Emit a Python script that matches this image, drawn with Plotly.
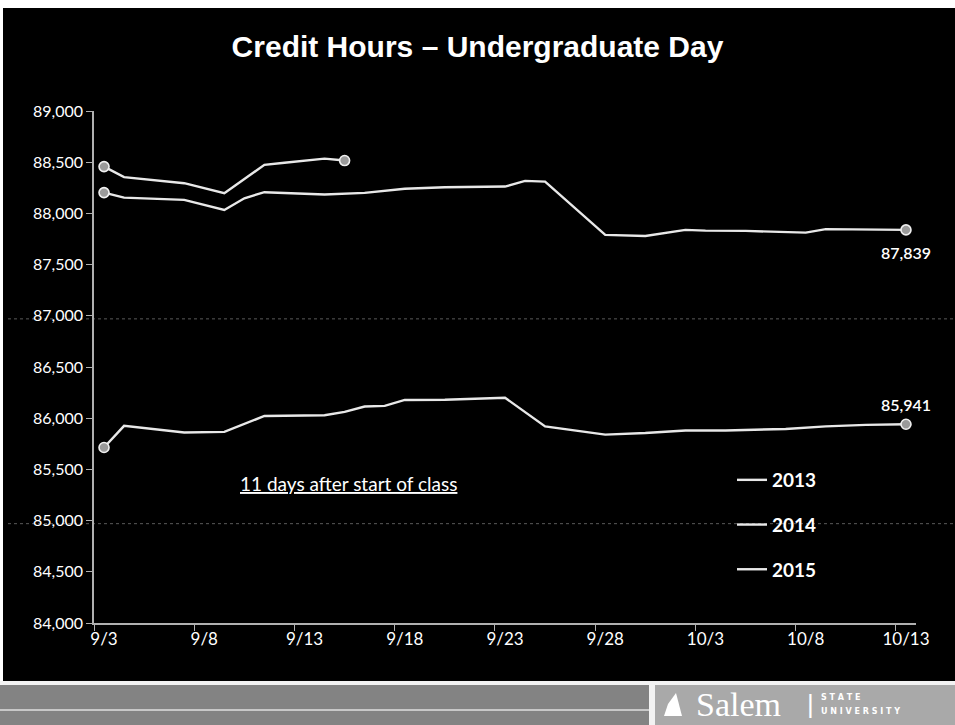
import pandas as pd
import plotly.graph_objects as go

# ---------------- data ----------------
dates_2013 = ["9/3", "9/4", "9/7", "9/9", "9/11", "9/14", "9/15", "9/16", "9/17", "9/18",
              "9/20", "9/23", "9/25", "9/28", "9/30", "10/2", "10/4", "10/7", "10/9", "10/11", "10/13"]
hours_2013 = [85714, 85925, 85860, 85866, 86022, 86029, 86062, 86114, 86120, 86178,
              86180, 86200, 85920, 85840, 85855, 85880, 85880, 85895, 85920, 85935, 85941]

dates_2014 = ["9/3", "9/4", "9/7", "9/9", "9/10", "9/11", "9/14", "9/16", "9/18", "9/20",
              "9/23", "9/24", "9/25", "9/28", "9/30", "10/2", "10/3", "10/5", "10/8", "10/9", "10/13"]
hours_2014 = [88203, 88154, 88132, 88034, 88148, 88207, 88185, 88200, 88240, 88255,
              88262, 88318, 88310, 87790, 87780, 87839, 87832, 87829, 87812, 87846, 87839]

dates_2015 = ["9/3", "9/4", "9/7", "9/9", "9/10", "9/11", "9/12", "9/14", "9/15"]
hours_2015 = [88457, 88354, 88295, 88197, 88335, 88474, 88495, 88535, 88516]

x_tick_labels = ["9/3", "9/8", "9/13", "9/18", "9/23", "9/28", "10/3", "10/8", "10/13"]
y_ticks = [84000, 84500, 85000, 85500, 86000, 86500, 87000, 87500, 88000, 88500, 89000]

series = [("2013", dates_2013, hours_2013),
          ("2014", dates_2014, hours_2014),
          ("2015", dates_2015, hours_2015)]


def to_dt(labels):
    return pd.to_datetime(["2015/" + s for s in labels], format="%Y/%m/%d")


LINE = "#e8e8e8"
fig = go.Figure()
for name, d, v in series:
    fig.add_trace(go.Scatter(
        x=to_dt(d), y=v, name=name, mode="lines", legendgroup=name,
        line=dict(color=LINE, width=2.4),
    ))
for name, d, v in series:
    fig.add_trace(go.Scatter(
        x=to_dt([d[0], d[-1]]), y=[v[0], v[-1]], mode="markers", showlegend=False,
        legendgroup=name,
        marker=dict(size=10, color="#9a9a9a", line=dict(color="#f0f0f0", width=1.6)),
    ))

# end-value labels
fig.add_annotation(x=to_dt([dates_2014[-1]])[0], y=hours_2014[-1], text=f"{hours_2014[-1]:,}",
                   showarrow=False, yshift=-23, xanchor="center", yanchor="middle",
                   font=dict(family="Lato", size=16, color="white", weight=600))
fig.add_annotation(x=to_dt([dates_2013[-1]])[0], y=hours_2013[-1], text=f"{hours_2013[-1]:,}",
                   showarrow=False, yshift=20, xanchor="center", yanchor="middle",
                   font=dict(family="Lato", size=16, color="white", weight=600))

PX_L, PX_R, PX_T, PX_B = 94, 916, 111, 623
W, H = 955, 725


def px(xp):
    return (xp - PX_L) / (PX_R - PX_L)


def py(yp):
    return (PX_B - yp) / (PX_B - PX_T)


fig.add_annotation(xref="paper", yref="paper", x=px(348), y=py(483), xanchor="center", yanchor="middle",
                   text="<u>11 days after start of class</u>", showarrow=False,
                   font=dict(family="Lato", size=19, color="white"))

shapes = []
# white strip at top / left
shapes.append(dict(type="rect", xref="paper", yref="paper", x0=px(0), x1=px(W), y0=py(8), y1=py(-5),
                   fillcolor="white", line=dict(width=0), layer="below"))
shapes.append(dict(type="rect", xref="paper", yref="paper", x0=px(-5), x1=px(3), y0=py(W), y1=py(-5),
                   fillcolor="white", line=dict(width=0), layer="below"))
# faint dotted lines
for val in (87000, 85000):
    shapes.append(dict(type="line", xref="paper", yref="y", x0=px(8), x1=px(W), y0=val - 30, y1=val - 30,
                       line=dict(color="#5a5a5a", width=1, dash="dot"), layer="below"))
# footer
shapes.append(dict(type="rect", xref="paper", yref="paper", x0=px(0), x1=px(W), y0=py(681), y1=py(685),
                   fillcolor="#f2f2f2", line=dict(width=0), layer="below"))
shapes.append(dict(type="rect", xref="paper", yref="paper", x0=px(0), x1=px(649), y0=py(685), y1=py(730),
                   fillcolor="#838383", line=dict(width=0), layer="below"))
shapes.append(dict(type="rect", xref="paper", yref="paper", x0=px(0), x1=px(649), y0=py(709), y1=py(711),
                   fillcolor="#c8c8c8", line=dict(width=0), layer="below"))
shapes.append(dict(type="rect", xref="paper", yref="paper", x0=px(649), x1=px(655), y0=py(685), y1=py(730),
                   fillcolor="#f2f2f2", line=dict(width=0), layer="below"))
shapes.append(dict(type="rect", xref="paper", yref="paper", x0=px(655), x1=px(W), y0=py(685), y1=py(730),
                   fillcolor="#a9a9a9", line=dict(width=0), layer="below"))
# small sail icon of the logo
shapes.append(dict(type="path", xref="paper", yref="paper",
                   path=f"M {px(664)} {py(716)} L {px(682)} {py(716)} L {px(676)} {py(693)} "
                        f"L {px(668)} {py(704)} Z",
                   fillcolor="white", line=dict(width=0)))

fig.add_annotation(xref="paper", yref="paper", x=px(738), y=py(704), text="Salem", showarrow=False,
                   xanchor="center", yanchor="middle",
                   font=dict(family="Liberation Serif", size=34, color="white"))
fig.add_annotation(xref="paper", yref="paper", x=px(810), y=py(704), text="|", showarrow=False,
                   xanchor="center", yanchor="middle",
                   font=dict(family="Liberation Sans", size=26, color="white"))
fig.add_annotation(xref="paper", yref="paper", x=px(819), y=py(697), text="<b>S T A T E</b>", showarrow=False,
                   xanchor="left", yanchor="middle", font=dict(family="DejaVu Sans", size=8, color="white"))
fig.add_annotation(xref="paper", yref="paper", x=px(819), y=py(711), text="<b>U N I V E R S I T Y</b>",
                   showarrow=False, xanchor="left", yanchor="middle",
                   font=dict(family="DejaVu Sans", size=8, color="white"))

fig.update_layout(
    width=W, height=H,
    paper_bgcolor="black", plot_bgcolor="black",
    margin=dict(l=PX_L, r=W - PX_R, t=PX_T, b=H - PX_B),
    title=dict(text="<b>Credit Hours – Undergraduate Day</b>", x=0.5, xanchor="center",
               y=1 - 46 / H, yanchor="middle",
               font=dict(family="Liberation Sans", size=30, color="white")),
    showlegend=True,
    legend=dict(x=px(732), y=py(461), xanchor="left", yanchor="top", bgcolor="rgba(0,0,0,0)",
                font=dict(family="Lato", size=19, color="white", weight="bold"),
                tracegroupgap=17, itemwidth=30, traceorder="grouped"),
    shapes=shapes,
    xaxis=dict(
        type="date",
        range=[pd.Timestamp("2015-09-02 12:00"), pd.Timestamp("2015-10-13 12:00")],
        tickvals=to_dt(x_tick_labels), ticktext=x_tick_labels,
        ticks="", showgrid=False, zeroline=False,
        showline=True, linecolor="#b0b0b0", linewidth=1.5,
        tickfont=dict(family="Lato", size=17, color="white"),
        minor=dict(ticks="outside", ticklen=6, tickcolor="#b0b0b0", showgrid=False,
                   tick0=pd.Timestamp("2015-09-02 12:00"), dtick=5 * 86400000),
    ),
    yaxis=dict(
        range=[84000, 89000], tickvals=y_ticks, tickformat=",",
        ticks="outside", ticklen=6, tickcolor="#b0b0b0",
        showgrid=False, zeroline=False,
        showline=True, linecolor="#b0b0b0", linewidth=1.5,
        tickfont=dict(family="Lato", size=16, color="white"),
    ),
)

fig.write_html("out.html")
